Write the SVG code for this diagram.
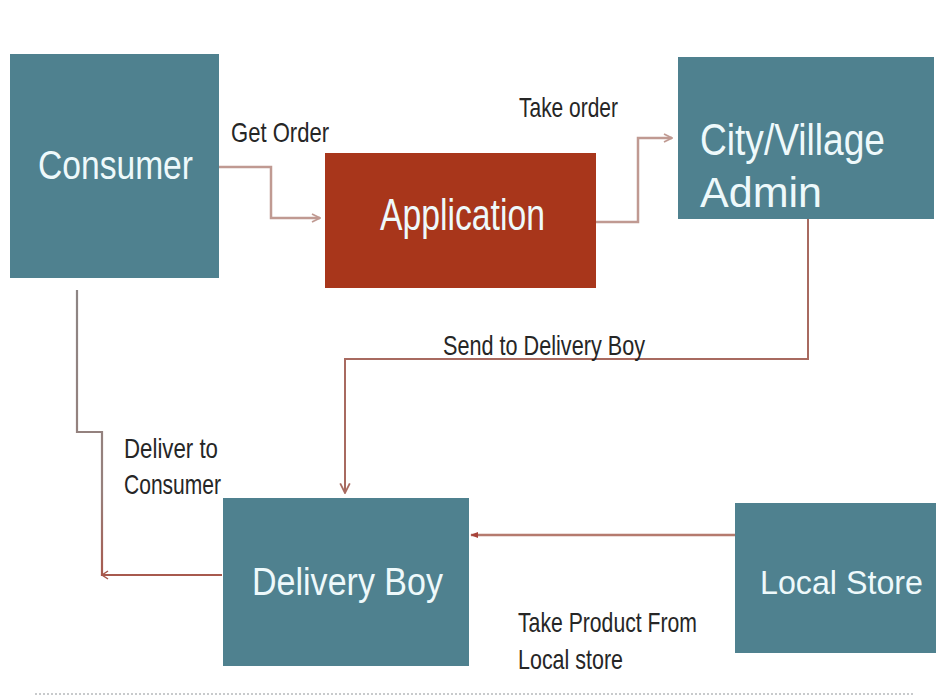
<svg xmlns="http://www.w3.org/2000/svg" width="936" height="698" viewBox="0 0 936 698">
<defs>
<style>
.node{fill:#4f818f}
.app{fill:#a8361b}
.nt{font-family:"Liberation Sans",Arial,sans-serif;fill:#eef9fb}
.lbl{font-family:"Liberation Sans",Arial,sans-serif;fill:#262626;font-size:28px}
.c1{fill:none;stroke:#c09a92;stroke-width:2.5}
.c2{fill:none;stroke:#a86a60;stroke-width:2}
</style>
<marker id="chev" viewBox="0 0 10 10" refX="9" refY="5" markerWidth="10" markerHeight="10" markerUnits="userSpaceOnUse" orient="auto">
<path d="M1,1 L9,5 L1,9" fill="none" stroke="#c09a92" stroke-width="1.8"/>
</marker>
<marker id="chev2" viewBox="0 0 10 10" refX="9" refY="5" markerWidth="12" markerHeight="12" markerUnits="userSpaceOnUse" orient="auto">
<path d="M1,1 L9,5 L1,9" fill="none" stroke="#a86a60" stroke-width="1.5"/>
</marker>
<marker id="tri" viewBox="0 0 10 10" refX="9" refY="5" markerWidth="8" markerHeight="8" markerUnits="userSpaceOnUse" orient="auto">
<path d="M0,1 L10,5 L0,9 z" fill="#a8433a"/>
</marker>
<linearGradient id="gDel" gradientUnits="userSpaceOnUse" x1="0" y1="290" x2="0" y2="578">
<stop offset="0" stop-color="#8d8584"/>
<stop offset="0.7" stop-color="#97807c"/>
<stop offset="1" stop-color="#a8584c"/>
</linearGradient>
</defs>
<rect width="936" height="698" fill="#ffffff"/>

<g id="connectors">
<polyline class="c1" points="219,167 271,167 271,218 320,218" marker-end="url(#chev)"/>
<polyline class="c1" points="596,222 638,222 638,138 672,138" marker-end="url(#chev)"/>
<polyline class="c2" points="808,219 808,359 345,359 345,493" marker-end="url(#chev2)"/>
<polyline fill="none" stroke="url(#gDel)" stroke-width="2.2" points="222,575 102,575 102,432 77,432 77,290"/>
<path d="M108,571 L102,575 L108,579" fill="none" stroke="#a8584c" stroke-width="1.5"/>
<line x1="735" y1="535" x2="471" y2="535" stroke="#b57a6e" stroke-width="2.5" marker-end="url(#tri)"/>
</g>

<g id="labels">
<text class="lbl" x="231" y="142" textLength="98" lengthAdjust="spacingAndGlyphs">Get Order</text>
<text class="lbl" x="519" y="117" textLength="99" lengthAdjust="spacingAndGlyphs">Take order</text>
<text class="lbl" x="443" y="355" textLength="202" lengthAdjust="spacingAndGlyphs">Send to  Delivery Boy</text>
<text class="lbl" x="124" y="458" textLength="94" lengthAdjust="spacingAndGlyphs">Deliver to</text>
<text class="lbl" x="124" y="494" textLength="97" lengthAdjust="spacingAndGlyphs">Consumer</text>
<text class="lbl" x="518" y="632" textLength="179" lengthAdjust="spacingAndGlyphs">Take Product From</text>
<text class="lbl" x="518" y="669" textLength="105" lengthAdjust="spacingAndGlyphs">Local store</text>
</g>

<g id="consumer">
<rect class="node" x="10" y="54" width="209" height="224"/>
<text class="nt" x="38" y="179" font-size="40" textLength="155" lengthAdjust="spacingAndGlyphs">Consumer</text>
</g>
<g id="application">
<rect class="app" x="325" y="153" width="271" height="135"/>
<text class="nt" x="380" y="230" font-size="44" textLength="165" lengthAdjust="spacingAndGlyphs">Application</text>
</g>
<g id="admin">
<rect class="node" x="678" y="57" width="256" height="162"/>
<text class="nt" x="700" y="155" font-size="45" textLength="185" lengthAdjust="spacingAndGlyphs">City/Village</text>
<text class="nt" x="700" y="207" font-size="43" textLength="122" lengthAdjust="spacingAndGlyphs">Admin</text>
</g>
<g id="delivery-boy">
<rect class="node" x="223" y="498" width="246" height="168"/>
<text class="nt" x="252" y="595" font-size="39" textLength="191" lengthAdjust="spacingAndGlyphs">Delivery Boy</text>
</g>
<g id="local-store">
<rect class="node" x="735" y="503" width="201" height="150"/>
<text class="nt" x="760" y="594" font-size="34" textLength="163" lengthAdjust="spacingAndGlyphs">Local Store</text>
</g>

<line x1="35" y1="694" x2="915" y2="694" stroke="#c8cacc" stroke-width="2" stroke-dasharray="2,2"/>
</svg>
